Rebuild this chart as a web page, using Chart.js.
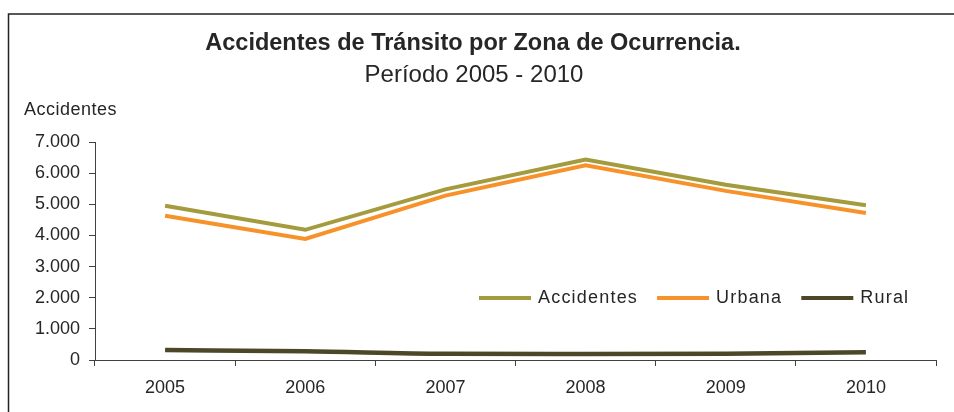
<!DOCTYPE html>
<html>
<head>
<meta charset="utf-8">
<script src="https://cdn.jsdelivr.net/npm/chart.js@4"></script>
<style>
  html, body { margin: 0; padding: 0; background: #fff; }
  canvas { display: block; }
</style>
</head>
<body>
<canvas id="zonaChart" width="954" height="412"></canvas>
<script>
// Datos por año
const years = ['2005', '2006', '2007', '2008', '2009', '2010'];
const accidentes = [4950, 4180, 5480, 6440, 5630, 4970];
const urbana = [4630, 3890, 5280, 6250, 5430, 4720];
const rural = [320, 280, 200, 190, 200, 250];
const yTicks = [0, 1000, 2000, 3000, 4000, 5000, 6000, 7000];

const FONT = "'Liberation Sans', Arial, sans-serif";
const TEXT = '#262626';
const AXIS = '#404040';

const colors = {
  accidentes: '#A39B3D',
  urbana: '#F7922B',
  rural: '#4B4727'
};

// Formato con punto de miles: 7000 -> 7.000
const fmt = (v) => String(v).replace(/\B(?=(\d{3})+(?!\d))/g, '.');

// Marco, títulos, rótulo del eje y leyenda
const decorations = {
  id: 'decorations',
  beforeDraw(chart) {
    const ctx = chart.ctx;
    ctx.save();
    ctx.fillStyle = '#fff';
    ctx.fillRect(0, 0, chart.width, chart.height);
    ctx.strokeStyle = '#222';
    ctx.lineWidth = 1.5;
    ctx.beginPath();
    ctx.moveTo(8.5, chart.height + 2);
    ctx.lineTo(8.5, 14);
    ctx.lineTo(chart.width + 2, 14);
    ctx.stroke();
    ctx.restore();
  },
  afterDraw(chart) {
    const ctx = chart.ctx;
    ctx.save();
    ctx.fillStyle = TEXT;
    ctx.textAlign = 'center';
    ctx.textBaseline = 'middle';
    ctx.font = 'bold 23.5px ' + FONT;
    ctx.fillText('Accidentes de Tránsito por Zona de Ocurrencia.', 473, 44);
    ctx.font = '24px ' + FONT;
    ctx.fillText('Período 2005 - 2010', 474, 75);

    ctx.textAlign = 'left';
    ctx.font = '18px ' + FONT;
    ctx.letterSpacing = '0.5px';
    ctx.fillText('Accidentes', 24, 110);

    // leyenda
    ctx.letterSpacing = '1.2px';
    let x = 479;
    const y = 298;
    chart.data.datasets.forEach((ds) => {
      ctx.strokeStyle = ds.borderColor;
      ctx.lineWidth = 4;
      ctx.beginPath();
      ctx.moveTo(x, y);
      ctx.lineTo(x + 52, y);
      ctx.stroke();
      ctx.fillStyle = TEXT;
      ctx.fillText(ds.label, x + 59, y);
      x += 59 + ctx.measureText(ds.label).width + 19;
    });
    ctx.restore();
  }
};

new Chart(document.getElementById('zonaChart'), {
  type: 'line',
  data: {
    labels: years,
    datasets: [
      {
        label: 'Accidentes',
        data: accidentes,
        borderColor: colors.accidentes,
        borderWidth: 4,
        pointRadius: 0,
        tension: 0
      },
      {
        label: 'Urbana',
        data: urbana,
        borderColor: colors.urbana,
        borderWidth: 4,
        pointRadius: 0,
        tension: 0
      },
      {
        label: 'Rural',
        data: rural,
        borderColor: colors.rural,
        borderWidth: 4.5,
        pointRadius: 0,
        cubicInterpolationMode: 'monotone'
      }
    ]
  },
  options: {
    responsive: false,
    animation: false,
    layout: { padding: { top: 142, right: 18, left: 0, bottom: 0 } },
    plugins: {
      legend: { display: false },
      title: { display: false },
      tooltip: { enabled: false }
    },
    scales: {
      x: {
        offset: true,
        grid: { offset: true, drawOnChartArea: false, drawTicks: true, tickLength: 6, color: AXIS },
        border: { color: AXIS, width: 1 },
        ticks: { color: TEXT, font: { family: FONT, size: 18 }, padding: 11, maxRotation: 0 },
        afterFit: (scale) => { scale.height = 52; }
      },
      y: {
        min: 0,
        max: 7000,
        afterBuildTicks: (scale) => { scale.ticks = yTicks.map(v => ({ value: v })); },
        grid: { drawOnChartArea: false, drawTicks: true, tickLength: 6, color: AXIS },
        border: { color: AXIS, width: 1 },
        ticks: { color: TEXT, font: { family: FONT, size: 18 }, padding: 9, callback: (v) => fmt(v) },
        afterFit: (scale) => { scale.width = 95; }
      }
    }
  },
  plugins: [decorations]
});
</script>
</body>
</html>
